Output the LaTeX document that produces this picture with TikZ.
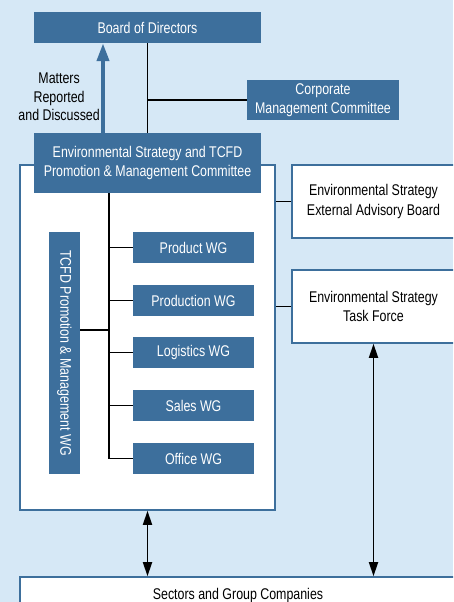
\documentclass[tikz,border=0pt]{standalone}
\usepackage{fontspec}
\setmainfont{Liberation Sans}[FakeStretch=0.8]
\usepackage{tikz}
\usetikzlibrary{arrows.meta}
\definecolor{boxblue}{HTML}{3D6F9C}
\definecolor{bgblue}{HTML}{D6E8F6}

\begin{document}
\begin{tikzpicture}[x=1pt, y=-1pt,
	every node/.style={font=\fontsize{15.5}{19.5}\selectfont, inner sep=0pt, align=center},
	darkbox/.style={fill=boxblue, text=white},
	whitebox/.style={fill=white, draw=boxblue, line width=1.6pt},
	link/.style={line width=1.8pt},
	twoway/.style={line width=1.8pt, {Triangle[width=9pt,length=14pt]}-{Triangle[width=9pt,length=14pt]}},
	report/.style={boxblue, line width=4pt, -{Triangle[width=12pt,length=18pt]}}]
	\clip (0,0) rectangle (453,602);
	\fill[bgblue] (0,0) rectangle (453,602);
	% white panel and the boxes beside it
	\node[whitebox, minimum width=255pt, minimum height=345pt] (panel) at (147.5,337.5) {};
	\node[whitebox, minimum width=163pt, minimum height=73pt] (eab) at (373.5,201.5) {Environmental Strategy\\External Advisory Board};
	\node[whitebox, minimum width=163pt, minimum height=73pt] (etf) at (373.5,306.5) {Environmental Strategy\\Task Force};
	\node[whitebox, minimum width=436pt, minimum height=36pt] (sectors) at (238,595) {Sectors and Group Companies};
	% committees
	\node[darkbox, minimum width=227pt, minimum height=31pt] (board) at (147.5,27.5) {Board of Directors};
	\node[darkbox, minimum width=152pt, minimum height=40pt] (cmc) at (323,100) {Corporate\\Management Committee};
	\node[darkbox, minimum width=227pt, minimum height=60pt] (esc) at (147.5,163) {Environmental Strategy and TCFD\\Promotion \& Management Committee};
	% working groups
	\node[darkbox, minimum width=121pt, minimum height=31pt] (product) at (193.5,247.5) {Product WG};
	\node[darkbox, minimum width=121pt, minimum height=31pt] (production) at (193.5,300.5) {Production WG};
	\node[darkbox, minimum width=121pt, minimum height=31pt] (logistics) at (193.5,352.5) {Logistics WG};
	\node[darkbox, minimum width=121pt, minimum height=31pt] (sales) at (193.5,405.5) {Sales WG};
	\node[darkbox, minimum width=121pt, minimum height=31pt] (office) at (193.5,458.5) {Office WG};
	\node[darkbox, rotate=-90, minimum width=242pt, minimum height=31pt] (tcfdwg) at (64.5,353) {TCFD Promotion \& Management WG};
	% connectors
	\draw[link] (board.south) -- (esc.north);
	\draw[link] (cmc.west) -- (cmc.west -| board.south);
	\draw[report] ([xshift=-44.5pt]esc.north) -- ([xshift=-44.5pt]board.south);
	\node[anchor=east, font=\fontsize{15.5}{18.5}\selectfont] (matters) at (100,97) {Matters\\Reported\\and Discussed};
	\coordinate (trunk) at ([xshift=-38.5pt]esc.south);
	\draw[link] (trunk) |- (office.west);
	\foreach \wg in {product,production,logistics,sales}
		\draw[link] (\wg.west) -- (\wg.west -| trunk);
	\draw[link] ([yshift=23pt]tcfdwg.north) -- ([yshift=23pt]tcfdwg.north -| trunk);
	\draw[link] (eab.west) -- (eab.west -| panel.east);
	\draw[link] (etf.west) -- (etf.west -| panel.east);
	\draw[twoway] (panel.south) -- (sectors.north -| panel.south);
	\draw[twoway] (etf.south) -- (sectors.north -| etf.south);
\end{tikzpicture}
\end{document}
